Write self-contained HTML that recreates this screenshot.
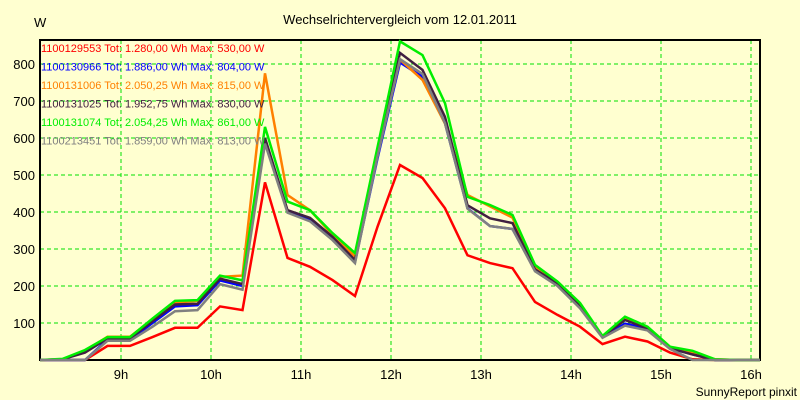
<!DOCTYPE html>
<html><head><meta charset="utf-8"><style>
body{margin:0;background:#ffffd0;}
svg{display:block;font-family:"Liberation Sans",sans-serif;}
</style></head><body>
<svg id="chart" width="800" height="400">
<rect x="0" y="0" width="800" height="400" fill="#ffffd0"/>
<text x="400" y="24" text-anchor="middle" font-size="13" fill="#000">Wechselrichtervergleich vom 12.01.2011</text>
<text x="34" y="27" font-size="13" fill="#000">W</text>
<text x="797" y="396" text-anchor="end" font-size="12" fill="#000">SunnyReport pinxit</text>
<g id="grid"></g><g id="axes"></g><g id="series"></g><g id="legend"></g>
</svg>
<script>
const seriesNames=["1100129553","1100130966","1100131006","1100131025","1100131074","1100213451"];
const seriesTot=["1.280,00","1.886,00","2.050,25","1.952,75","2.054,25","1.859,00"];
const seriesMax=["530,00","804,00","815,00","830,00","861,00","813,00"];
const seriesColors=["#ff0000","#0000ff","#ff8000","#402040","#00ee00","#808080"];
const startHour=8.1, stepHour=0.25;
const red=[0,0,0,38,38,62,87,87,145,135,480,276,252,216,173,360,527,492,410,283,262,248,157,122,90,43,63,50,20,2,0,0,0];
const blue=[0,0,0,55,55,100,145,148,215,200,590,402,380,328,265,545,804,765,640,410,362,354,243,205,145,63,98,85,32,15,0,0,0];
const orange=[0,2,25,63,63,110,155,160,225,228,775,446,405,338,280,555,812,757,639,446,415,385,250,208,150,63,112,88,34,20,2,0,0];
const dark=[0,2,20,58,58,105,150,152,220,205,600,405,384,333,270,560,830,784,657,418,383,370,245,207,148,63,108,85,32,15,0,0,0];
const green=[0,3,27,62,62,112,160,162,228,215,630,428,405,343,289,575,861,824,694,441,419,392,257,212,154,65,117,90,36,25,2,0,0];
const gray=[0,0,0,52,52,90,132,135,205,190,585,398,375,324,262,550,813,773,640,409,362,354,240,200,140,60,93,80,30,0,0,0,0];
const allSeries=[red,blue,orange,dark,green,gray];
const yTicks=[100,200,300,400,500,600,700,800];
const xTicks=[9,10,11,12,13,14,15,16];
const X0=40,X1=760,Y0=360,YT=40;
function xs(h){return 121+(h-9)*90;}
function ys(v){return Y0-v*0.37;}
const NS="http://www.w3.org/2000/svg";
function mk(tag,parent,attrs){const e=document.createElementNS(NS,tag);for(const k in attrs)e.setAttribute(k,attrs[k]);parent.appendChild(e);return e;}
const grid=document.getElementById('grid'),axes=document.getElementById('axes'),ser=document.getElementById('series'),leg=document.getElementById('legend');
yTicks.forEach(v=>{
 const l=mk('line',grid,{x1:X0,x2:X1,y1:ys(v),y2:ys(v),stroke:'#00e000','stroke-dasharray':'4,3'});
 
 
 const t=mk('text',axes,{x:35,y:ys(v)+5,'text-anchor':'end','font-size':13});
 t.textContent=v;
 
 
});
xTicks.forEach(h=>{
 const l=mk('line',grid,{x1:xs(h),x2:xs(h),y1:YT,y2:Y0,stroke:'#00e000','stroke-dasharray':'4,3'});
 
 
 const t=mk('text',axes,{x:xs(h),y:379,'text-anchor':'middle','font-size':13});
 t.textContent=h+'h';
 
 
});
const frame=mk('path',axes,{d:`M${X0},${YT}H${X1}V${Y0}H${X0}Z`,fill:'none',stroke:'#000','stroke-width':2});


allSeries.forEach((arr,i)=>{
 const pts=arr.map((v,k)=>xs(startHour+k*stepHour).toFixed(1)+','+ys(v).toFixed(1)).join(' ');
 const p=mk('polyline',ser,{points:pts,fill:'none',stroke:seriesColors[i],'stroke-width':2.5,'stroke-linejoin':'miter'});
 
 
 const t=mk('text',leg,{x:41,y:52+i*18.5,'font-size':11,fill:seriesColors[i]});
 t.textContent=seriesNames[i]+' Tot: '+seriesTot[i]+' Wh Max: '+seriesMax[i]+' W';
 
 
});
</script>
</body></html>
